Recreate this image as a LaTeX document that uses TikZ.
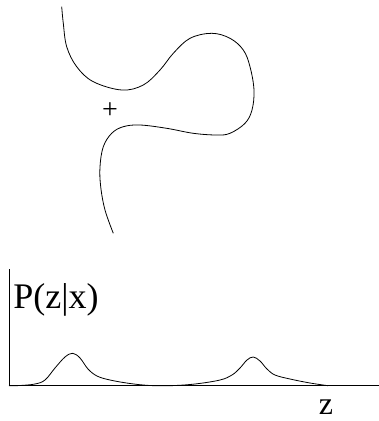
\documentclass[tikz,border=0pt]{standalone}
\usepackage{fontspec}
\setmainfont{Liberation Serif}
\usetikzlibrary{positioning}

\begin{document}
\begin{tikzpicture}[x=1pt, y=-1pt, line width=0.8pt,
  label text/.style={inner sep=0pt, font=\fontsize{32}{38}\selectfont},
  curve/.style={smooth, tension=0.6}]
\path[use as bounding box] (0,0) rectangle (379,421);
% contour in the x plane
\draw plot[curve] coordinates {(61.7,6.7) (63.3,23.3) (66.7,46.7) (76.7,66.7) (93.3,81.7)
  (121.7,90) (143.3,85) (160,70) (173.3,53.3) (190,38.3) (211.7,33.3) (230,38.3)
  (243.3,50) (250,66.7) (254,90) (252,110) (245,123.3) (230,133.3) (216.7,135)
  (193.3,133.3) (166.7,128.3) (140,125) (123.3,126.7) (111.7,133.3) (103.3,146.7)
  (100,166.7) (100.7,186.7) (105,210) (113.3,233.3)};
\node[label text, font=\fontsize{28}{34}\selectfont] (point) at (110,110.5) {+};
% axes
\coordinate (top) at (9,269);
\coordinate (origin) at (9,385.7);
\coordinate (right) at (379,385.7);
\draw (top) -- (origin) -- (right);
\node[label text, font=\fontsize{36}{42}\selectfont, anchor=base west] (plabel) at (13,308) {P(z|x)};
\node[label text, anchor=base west] (zlabel) at (318.5,414.5) {z};
% density with two peaks
\draw plot[curve] coordinates {(9,385.7) (20,385.5) (35,384) (45,380) (55,368) (65,357)
  (72.7,353.3) (80,358) (88,369) (97,376) (110,380) (130,383.5) (150,385.5)
  (170,385.7) (195,384) (220,380) (232,375) (240,368) (247,360) (253.3,357)
  (260,361) (267,369) (275,375) (290,379) (310,383) (328,385.7)};
\end{tikzpicture}
\end{document}
